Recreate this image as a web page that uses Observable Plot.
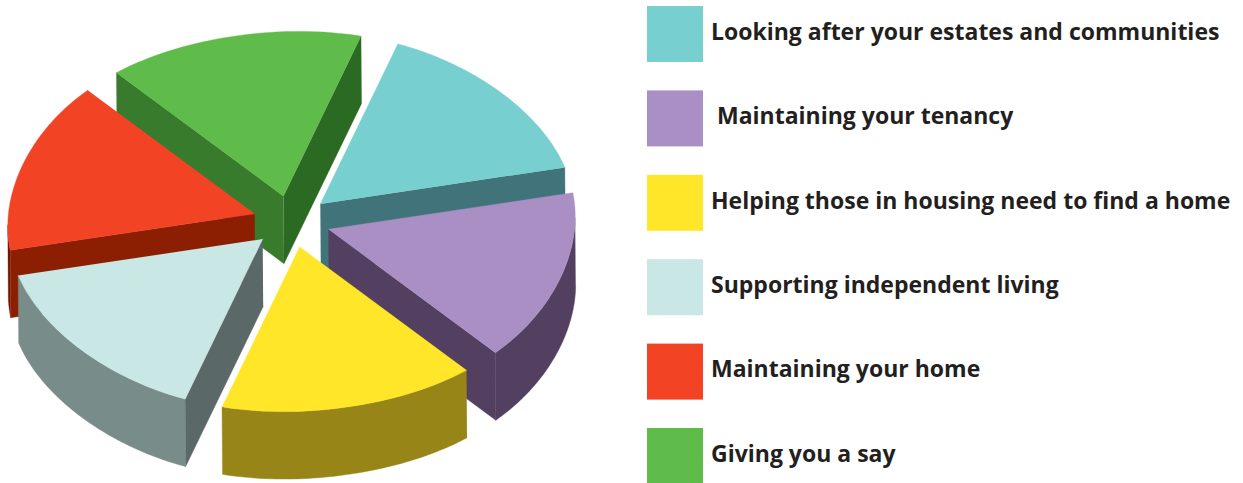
<!DOCTYPE html>
<html>
<head>
<meta charset="utf-8">
<style>
  html, body { margin: 0; padding: 0; background: #fff; }
  svg { display: block; }
</style>
<script src="https://cdn.jsdelivr.net/npm/d3@7"></script>
<script src="https://cdn.jsdelivr.net/npm/@observablehq/plot@0.6"></script>
</head>
<body>
<script>
// Services, in clockwise order round the pie
const categories = [
  "Looking after your estates and communities",
  "\u00a0Maintaining your tenancy",
  "Helping those in housing need to find a home",
  "Supporting independent living",
  "Maintaining your home",
  "Giving you a say"
];
const shares = [1, 1, 1, 1, 1, 1];

const topColors = ["#78cfcf", "#a98fc4", "#ffe628", "#c9e7e4", "#f24324", "#5fbb4a"];
const outerWallColors = ["#40747a", "#534060", "#988518", "#788c89", "#6f1500", "#2a6a22"];
const startWallColors = ["#40747a", "#534060", "#988518", "#5a6968", "#8c1f02", "#387b2d"];
const endWallColors = ["#40747a", "#534060", "#988518", "#5a6968", "#8c1f02", "#2a6a22"];

// Slices further back are painted first so nearer ones overlap them
const paintOrder = [5, 0, 4, 1, 3, 2];

// Oblique projection of the disc: screen vectors for the rim at 0 and 60 degrees
const centre = [291, 221];
const rim0 = [77.5, -160];
const rim60 = [244.5, -36.5];
const depth = [0.5, 67.5];
const explode = 0.155;
const rimFlatten = 0.024;

const rimBasis = [
  (rim60[0] - rim0[0] * 0.5) / Math.sin(Math.PI / 3),
  (rim60[1] - rim0[1] * 0.5) / Math.sin(Math.PI / 3)
];
const rim = (a) => [
  rim0[0] * Math.cos(a) + rimBasis[0] * Math.sin(a),
  rim0[1] * Math.cos(a) + rimBasis[1] * Math.sin(a)
];
const cross = (a, b) => a[0] * b[1] - a[1] * b[0];

const total = d3.sum(shares);
const cumulative = d3.cumsum(shares);
const faces = [];
let faceId = 0;
const addFace = (pts, fill) => {
  const z = faceId++;
  for (const [x, y] of pts) faces.push({x, y, z, fill});
};

for (const i of paintOrder) {
  const a1 = 2 * Math.PI * (cumulative[i] - shares[i]) / total;
  const a2 = 2 * Math.PI * cumulative[i] / total;
  const mid = rim((a1 + a2) / 2);
  const apex = [centre[0] + explode * mid[0], centre[1] + explode * mid[1]];
  const arc = d3.range(49).map((k) => {
    const t = k / 48;
    const v = rim(a1 + (a2 - a1) * t);
    const r = 1 - rimFlatten * Math.sin(Math.PI * t);
    return [apex[0] + r * v[0], apex[1] + r * v[1]];
  });
  const drop = ([x, y]) => [x + depth[0], y + depth[1]];
  const first = arc[0], last = arc[arc.length - 1];

  // A cut face shows only when the drop points away from the slice's interior
  const showsCut = (end) => {
    const edge = [end[0] - apex[0], end[1] - apex[1]];
    return Math.sign(cross(edge, depth)) !== Math.sign(cross(edge, mid));
  };

  // The rim wall shows only where the clockwise rim runs right to left
  const frontRim = arc.filter((p, k) =>
    (k < arc.length - 1 && arc[k + 1][0] < p[0]) || (k > 0 && arc[k - 1][0] > p[0]));

  if (frontRim.length > 1) {
    addFace([...frontRim, ...frontRim.slice().reverse().map(drop)], outerWallColors[i]);
  }
  if (showsCut(first)) addFace([apex, first, drop(first), drop(apex)], startWallColors[i]);
  if (showsCut(last)) addFace([apex, last, drop(last), drop(apex)], endWallColors[i]);
  addFace([apex, ...arc], topColors[i]);
}

// Legend rows
const legendX = 647;
const swatch = 56;
const rowTop = 6;
const rowStep = 84.4;
const legend = categories.map((label, i) => ({
  label,
  fill: topColors[i],
  y1: rowTop + i * rowStep,
  y2: rowTop + i * rowStep + swatch
}));

const chart = Plot.plot({
  width: 1243,
  height: 483,
  margin: 0,
  x: {domain: [0, 1243], range: [0, 1243], axis: null},
  y: {domain: [0, 483], range: [0, 483], axis: null},
  style: {background: "#fff"},
  marks: [
    Plot.line(faces, {x: "x", y: "y", z: "z", fill: "fill", stroke: "fill", strokeWidth: 0.4, curve: "linear"}),
    Plot.rect(legend, {x1: legendX, x2: legendX + swatch, y1: "y1", y2: "y2", fill: "fill"}),
    Plot.text(legend, {
      x: legendX + swatch + 7.5,
      y: (d) => (d.y1 + d.y2) / 2 - 2,
      text: "label",
      textAnchor: "start",
      fill: "#231f20",
      fontFamily: "'Open Sans'",
      fontWeight: 700,
      fontSize: 23
    })
  ]
});
document.body.appendChild(chart);
</script>
</body>
</html>
